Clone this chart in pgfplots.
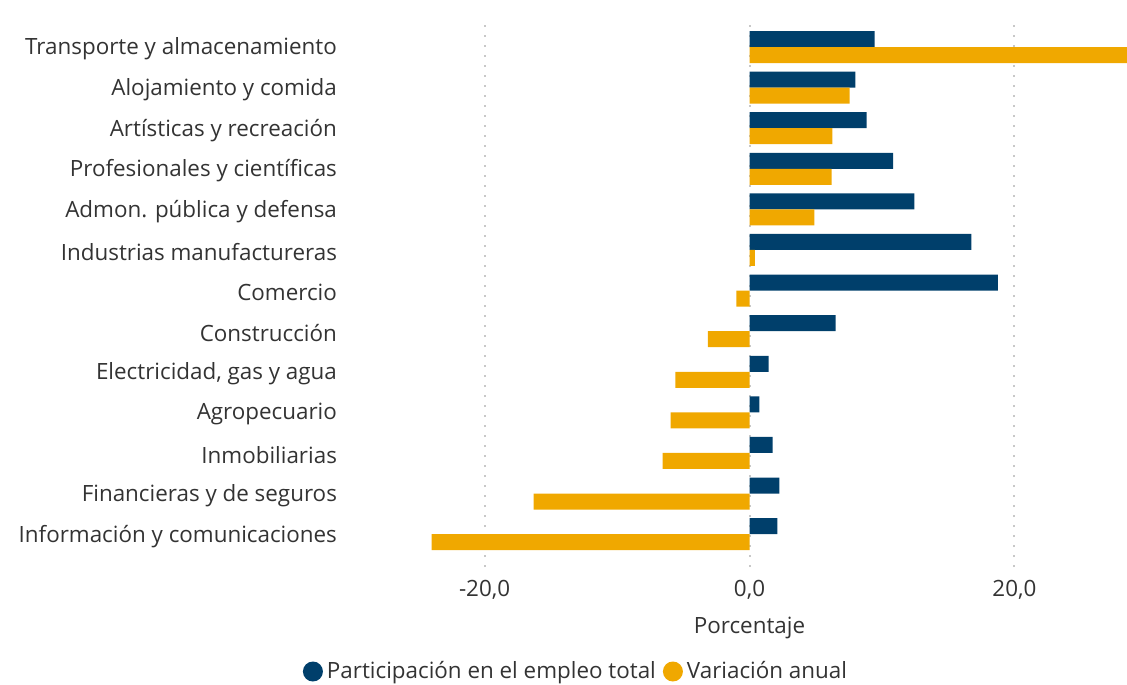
\documentclass[border=0pt]{standalone}
\usepackage{fontspec}
\setmainfont{Open Sans}
\usepackage{pgfplots}
\pgfplotsset{compat=1.18}
\definecolor{navy}{HTML}{003F6B}
\definecolor{gold}{HTML}{F0A800}
\definecolor{txt}{HTML}{333333}
\definecolor{gridc}{HTML}{C8C8C8}
\begin{document}
\begin{tikzpicture}
\path[use as bounding box] (0,0) rectangle (563.5pt,-342pt);
\begin{axis}[
  at={(186pt,-8.5pt)}, anchor=north west,
  scale only axis, width=377.5pt, height=275pt,
  xmin=-28.5, xmax=28.5, ymin=-0.81, ymax=12.74,
  axis line style={draw=none},
  tick style={draw=none},
  xtick={-20,0,20},
  ytick={0,...,12},
  yticklabels={Información y comunicaciones, Financieras y de seguros, Inmobiliarias, Agropecuario, {Electricidad, gas y agua}, Construcción, Comercio, Industrias manufactureras, Admon. pública y defensa, Profesionales y científicas, Artísticas y recreación, Alojamiento y comida, Transporte y almacenamiento},
  xmajorgrids, major grid style={gridc, line width=1pt, dash pattern=on 1pt off 4pt},
  /pgf/number format/.cd, fixed, fixed zerofill, precision=1, use comma, assume math mode=true,
  /pgfplots/.cd,
  every tick label/.append style={font=\fontsize{11.2}{13}\selectfont, text=txt},
  yticklabel style={xshift=-14pt, yshift=-1pt},
  xticklabel style={yshift=-3pt},
  xlabel={Porcentaje},
  xlabel style={font=\fontsize{11.2}{13}\selectfont, text=txt, yshift=-2pt},
  legend columns=2,
  legend style={at={(0.2715,-0.19)}, anchor=center, draw=none, fill=none,
    font=\fontsize{11.2}{13}\selectfont, text=txt,
    /tikz/every even column/.append style={column sep=1.5pt}},
  legend image code/.code={\fill[#1] (0pt,0pt) circle (5pt);},
  clip=true,
]
\addplot[xbar, bar width=8pt, bar shift=4pt, fill=navy, draw=none] coordinates {
(2.1,0) (2.25,1) (1.75,2) (0.75,3) (1.45,4) (6.5,5) (18.75,6) (16.75,7) (12.45,8) (10.85,9) (8.85,10) (8.0,11) (9.45,12)};
\addlegendentry{Participación en el empleo total}
\addplot[xbar, bar width=8pt, bar shift=-4pt, fill=gold, draw=none] coordinates {
(-24.0,0) (-16.3,1) (-6.55,2) (-5.95,3) (-5.6,4) (-3.15,5) (-1.0,6) (0.4,7) (4.9,8) (6.2,9) (6.25,10) (7.55,11) (28.5,12)};
\addlegendentry{Variación anual}
\end{axis}
\end{tikzpicture}
\end{document}
